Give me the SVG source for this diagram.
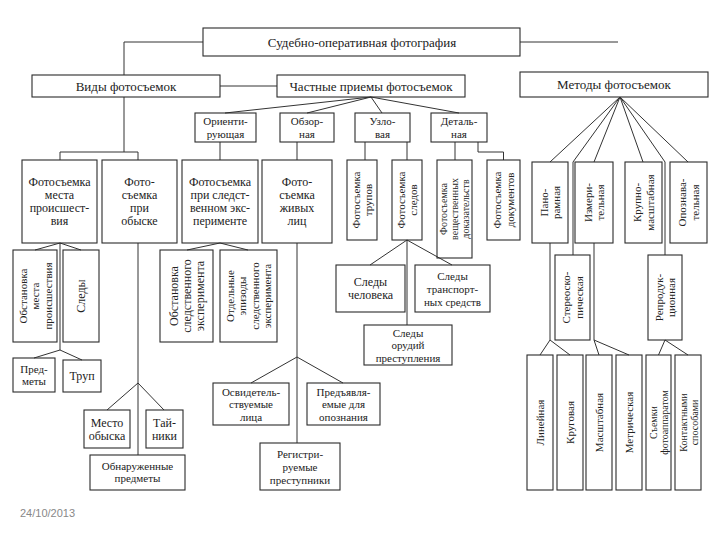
<svg xmlns="http://www.w3.org/2000/svg" width="720" height="540" viewBox="0 0 720 540" font-family="'Liberation Serif','Times New Roman',serif">
<style>
.b{fill:none;stroke:#2b2b2b;stroke-width:1.1}
.c{fill:none;stroke:#333;stroke-width:1}
text{font-family:"Liberation Serif","Times New Roman",serif;fill:#222;text-anchor:middle}
.t13{font-size:13px}
.t12{font-size:12px}
.t11{font-size:11px}
.t10{font-size:10px}
.date{font-family:"Liberation Sans",Arial,sans-serif;font-size:11px;fill:#888;text-anchor:start}
</style>
<rect width="720" height="540" fill="#fff"/>
<g id="connectors" class="c">
<path d="M203,42 H124 V75"/>
<path d="M520,42 H618"/>
<path d="M220,86 H277"/>
<path d="M124,97 V152 M60,152 H138 M60,152 V160 M138,152 V160"/>
<path d="M371,97 L225,113 M371,97 L307,113 M371,97 L382,113 M371,97 L459,113"/>
<path d="M220,142 V160 M297,142 V160"/>
<path d="M365,142 V160 M407,142 V160 M455,142 V160 M478,142 V152 H503.5 V160"/>
<path d="M620,97 L550,162 M620,97 L573,162 V255 M620,97 L594,162 M620,97 L643,162 M620,97 L665,162 V255 M620,97 L688,162"/>
<path d="M550,243 V340 L540,355 M550,340 L570,355"/>
<path d="M594,243 V340 L599,355 M594,340 L629,355"/>
<path d="M665,340 L658.5,355 M665,340 L688,355"/>
<path d="M60,243 L35,250 M60,243 L81,250 M60,243 V350 L34,358 M60,350 L82,360"/>
<path d="M138,243 V455 M138,383 L107,410 M138,383 L164,410"/>
<path d="M220,243 L187,250 M220,243 L248,250"/>
<path d="M297,243 V443 M297,357 L251,383 M297,357 L343,383"/>
<path d="M407,240 V325 M407,240 L370,265 M407,240 L452,265"/>
</g>
<g id="n-root"><rect class="b" x="203" y="28" width="317" height="28"/><text class="t13" x="362" y="46.5">Судебно-оперативная фотография</text></g>
<g id="n-vidy"><rect class="b" x="32" y="75" width="188" height="22"/><text class="t13" x="126" y="90.5">Виды фотосъемок</text></g>
<g id="n-chast"><rect class="b" x="277" y="75" width="188" height="22"/><text class="t13" x="371" y="90.5">Частные приемы фотосъемок</text></g>
<g id="n-metody"><rect class="b" x="520" y="72" width="188" height="25"/><text class="t13" x="614" y="89">Методы фотосъемок</text></g>
<g id="n-orient"><rect class="b" x="195" y="113" width="61" height="29"/><text class="t11" x="225.5" y="125">Ориенти-<tspan x="225.5" dy="12.5">рующая</tspan></text></g>
<g id="n-obzor"><rect class="b" x="280" y="113" width="54" height="29"/><text class="t11" x="307" y="125">Обзор-<tspan x="307" dy="12.5">ная</tspan></text></g>
<g id="n-uzl"><rect class="b" x="355" y="113" width="55" height="29"/><text class="t11" x="382.5" y="125">Узло-<tspan x="382.5" dy="12.5">вая</tspan></text></g>
<g id="n-detal"><rect class="b" x="431" y="113" width="56" height="29"/><text class="t11" x="459" y="125">Деталь-<tspan x="459" dy="12.5">ная</tspan></text></g>
<g id="n-mp"><rect class="b" x="22" y="160" width="75" height="83"/><text class="t12" x="59.5" y="186">Фотосъемка<tspan x="59.5" dy="13">места</tspan><tspan x="59.5" dy="13">происшест-</tspan><tspan x="59.5" dy="13">вия</tspan></text></g>
<g id="n-obysk"><rect class="b" x="102" y="160" width="75" height="83"/><text class="t12" x="139.5" y="186">Фото-<tspan x="139.5" dy="13">съемка</tspan><tspan x="139.5" dy="13">при</tspan><tspan x="139.5" dy="13">обыске</tspan></text></g>
<g id="n-eksp"><rect class="b" x="182" y="160" width="76" height="83"/><text class="t12" x="220" y="186">Фотосъемка<tspan x="220" dy="13">при следст-</tspan><tspan x="220" dy="13">венном экс-</tspan><tspan x="220" dy="13">перименте</tspan></text></g>
<g id="n-zhiv"><rect class="b" x="262" y="160" width="70" height="83"/><text class="t12" x="297" y="186">Фото-<tspan x="297" dy="13">съемка</tspan><tspan x="297" dy="13">живых</tspan><tspan x="297" dy="13">лиц</tspan></text></g>
<g id="n-trup"><rect class="b" x="347" y="160" width="30" height="80"/><text class="t11" transform="translate(362,200) rotate(-90)" x="0" y="-2.5">Фотосъемка<tspan x="0" dy="12.5">трупов</tspan></text></g>
<g id="n-sled"><rect class="b" x="392" y="160" width="30" height="80"/><text class="t11" transform="translate(407,200) rotate(-90)" x="0" y="-2.5">Фотосъемка<tspan x="0" dy="12.5">следов</tspan></text></g>
<g id="n-veshch"><rect class="b" x="437" y="160" width="35" height="98"/><text class="t10" transform="translate(454.5,209) rotate(-90)" x="0" y="-7.5">Фотосъемка<tspan x="0" dy="11">вещественных</tspan><tspan x="0" dy="11">доказательств</tspan></text></g>
<g id="n-dok"><rect class="b" x="487" y="160" width="33" height="80"/><text class="t11" transform="translate(503.5,200) rotate(-90)" x="0" y="-2.5">Фотосъемка<tspan x="0" dy="12.5">документов</tspan></text></g>
<g id="n-pano"><rect class="b" x="532" y="162" width="36" height="81"/><text class="t11" transform="translate(550,202.5) rotate(-90)" x="0" y="-2.5">Пано-<tspan x="0" dy="12.5">рамная</tspan></text></g>
<g id="n-izm"><rect class="b" x="575" y="162" width="38" height="81"/><text class="t11" transform="translate(594,202.5) rotate(-90)" x="0" y="-2.5">Измери-<tspan x="0" dy="12.5">тельная</tspan></text></g>
<g id="n-krupno"><rect class="b" x="625" y="162" width="37" height="81"/><text class="t11" transform="translate(643.5,202.5) rotate(-90)" x="0" y="-2.5">Крупно-<tspan x="0" dy="12.5">масштабная</tspan></text></g>
<g id="n-opozn"><rect class="b" x="670" y="162" width="37" height="81"/><text class="t11" transform="translate(688.5,202.5) rotate(-90)" x="0" y="-2.5">Опознава-<tspan x="0" dy="12.5">тельная</tspan></text></g>
<g id="n-stereo"><rect class="b" x="555" y="255" width="35" height="85"/><text class="t11" transform="translate(572.5,297.5) rotate(-90)" x="0" y="-2.5">Стереоско-<tspan x="0" dy="12.5">пическая</tspan></text></g>
<g id="n-repro"><rect class="b" x="648" y="255" width="34" height="85"/><text class="t11" transform="translate(665,297.5) rotate(-90)" x="0" y="-2.5">Репродук-<tspan x="0" dy="12.5">ционная</tspan></text></g>
<g id="n-lin"><rect class="b" x="527" y="355" width="26" height="135"/><text class="t11" transform="translate(540,422.5) rotate(-90)" x="0" y="4">Линейная</text></g>
<g id="n-krug"><rect class="b" x="557" y="355" width="26" height="135"/><text class="t11" transform="translate(570,422.5) rotate(-90)" x="0" y="4">Круговая</text></g>
<g id="n-masht"><rect class="b" x="586" y="355" width="26" height="135"/><text class="t11" transform="translate(599,422.5) rotate(-90)" x="0" y="4">Масштабная</text></g>
<g id="n-metr"><rect class="b" x="616" y="355" width="26" height="135"/><text class="t11" transform="translate(629,422.5) rotate(-90)" x="0" y="4">Метрическая</text></g>
<g id="n-semki"><rect class="b" x="646" y="355" width="25" height="135"/><text class="t10" transform="translate(658.5,422.5) rotate(-90)" x="0" y="-1.5">Съемки<tspan x="0" dy="11">фотоаппаратом</tspan></text></g>
<g id="n-kontakt"><rect class="b" x="675" y="355" width="26" height="135"/><text class="t10" transform="translate(688,422.5) rotate(-90)" x="0" y="-1.5">Контактными<tspan x="0" dy="11">способами</tspan></text></g>
<g id="n-obst-mp"><rect class="b" x="13" y="250" width="44" height="92"/><text class="t11" transform="translate(35,296) rotate(-90)" x="0" y="-8.5">Обстановка<tspan x="0" dy="12.5">места</tspan><tspan x="0" dy="12.5">происшествия</tspan></text></g>
<g id="n-sledy"><rect class="b" x="63" y="250" width="36" height="92"/><text class="t12" transform="translate(81,296) rotate(-90)" x="0" y="4">Следы</text></g>
<g id="n-predm"><rect class="b" x="13" y="358" width="42" height="34"/><text class="t11" x="34" y="372.5">Пред-<tspan x="34" dy="12.5">меты</tspan></text></g>
<g id="n-trup2"><rect class="b" x="63" y="360" width="38" height="32"/><text class="t12" x="82" y="380">Труп</text></g>
<g id="n-mesto"><rect class="b" x="84" y="410" width="46" height="38"/><text class="t12" x="107" y="427">Место<tspan x="107" dy="13">обыска</tspan></text></g>
<g id="n-tainiki"><rect class="b" x="146" y="410" width="37" height="38"/><text class="t12" x="164.5" y="427">Тай-<tspan x="164.5" dy="13">ники</tspan></text></g>
<g id="n-obnar"><rect class="b" x="90" y="455" width="95" height="35"/><text class="t11" x="137.5" y="469.5">Обнаруженные<tspan x="137.5" dy="12.5">предметы</tspan></text></g>
<g id="n-obst-eksp"><rect class="b" x="160" y="250" width="53" height="92"/><text class="t12" transform="translate(186.5,296) rotate(-90)" x="0" y="-9">Обстановка<tspan x="0" dy="13">следственного</tspan><tspan x="0" dy="13">эксперимента</tspan></text></g>
<g id="n-epizody"><rect class="b" x="220" y="250" width="57" height="92"/><text class="t11" transform="translate(248.5,296) rotate(-90)" x="0" y="-15">Отдельные<tspan x="0" dy="12.5">эпизоды</tspan><tspan x="0" dy="12.5">следственного</tspan><tspan x="0" dy="12.5">эксперимента</tspan></text></g>
<g id="n-osvid"><rect class="b" x="213" y="383" width="76" height="42"/><text class="t11" x="251" y="395.5">Освидетель-<tspan x="251" dy="12.5">ствуемые</tspan><tspan x="251" dy="12.5">лица</tspan></text></g>
<g id="n-predyav"><rect class="b" x="307" y="383" width="73" height="42"/><text class="t11" x="343.5" y="395.5">Предъявля-<tspan x="343.5" dy="12.5">емые для</tspan><tspan x="343.5" dy="12.5">опознания</tspan></text></g>
<g id="n-registr"><rect class="b" x="260" y="443" width="80" height="47"/><text class="t11" x="300" y="457.5">Регистри-<tspan x="300" dy="13">руемые</tspan><tspan x="300" dy="13">преступники</tspan></text></g>
<g id="n-sl-chel"><rect class="b" x="336" y="265" width="69" height="47"/><text class="t12" x="370.5" y="286">Следы<tspan x="370.5" dy="13">человека</tspan></text></g>
<g id="n-sl-trans"><rect class="b" x="415" y="265" width="75" height="47"/><text class="t11" x="452.5" y="279.5">Следы<tspan x="452.5" dy="13">транспорт-</tspan><tspan x="452.5" dy="13">ных средств</tspan></text></g>
<g id="n-sl-orud"><rect class="b" x="364" y="325" width="88" height="40"/><text class="t11" x="408" y="336.5">Следы<tspan x="408" dy="12.5">орудий</tspan><tspan x="408" dy="12.5">преступления</tspan></text></g>
<text class="date" x="20" y="517">24/10/2013</text>
</svg>
